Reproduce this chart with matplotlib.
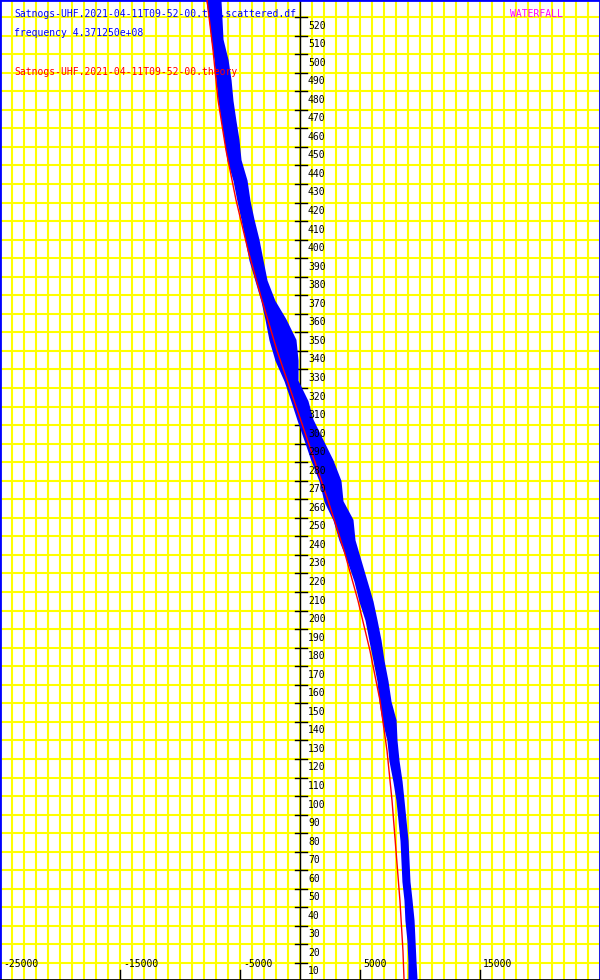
import matplotlib
matplotlib.use("Agg")
import matplotlib.pyplot as plt
import matplotlib.transforms as mtrans

# ---- data ----
# theory curve: value vs frequency offset (Hz)
theory_v = [529.2, 502.2, 475.2, 448.3, 421.3, 394.3, 367.3, 340.3, 313.3, 286.4, 259.4, 232.4, 205.4,
            178.4, 151.4, 124.5, 97.5, 70.5, 43.5, 16.5, 0.9]
theory_f = [-7750, -7250, -6830, -6170, -5330, -4330, -3170, -1920, -500, 920, 2330, 3670, 4830,
            5830, 6670, 7250, 7670, 8000, 8330, 8580, 8670]

# scattered measurements: value rows with left/right extent of the point cloud (Hz)
meas_v = [529, 518, 508, 497, 486, 475, 464, 454, 443, 432, 421, 411, 400, 389, 378, 367, 357, 346, 335,
          324, 313, 303, 292, 281, 270, 259, 249, 238, 227, 216, 205, 195, 184, 173, 162, 151, 141, 130,
          119, 108, 98, 87, 76, 65, 54, 44, 33, 22, 11, 1]
meas_lo = [-7750, -7500, -7330, -7080, -6920, -6750, -6500, -6250, -6000, -5500, -5170, -4830, -4500,
           -4170, -3670, -3170, -2830, -2500, -2000, -1250, -670, -170, 420, 1000, 1670, 2080, 2830, 3330,
           4000, 4580, 5000, 5500, 5830, 6170, 6500, 6670, 6920, 7330, 7500, 7830, 8080, 8250, 8420, 8500,
           8580, 8750, 8830, 9000, 9080, 9080]
meas_hi = [-6670, -6580, -6500, -6080, -5830, -5670, -5420, -5170, -5000, -4500, -4250, -3920, -3500,
           -3170, -2830, -2170, -1250, -420, -250, -250, 580, 1000, 1830, 2670, 3330, 3500, 4330, 4500,
           5000, 5500, 6000, 6330, 6670, 6920, 7250, 7500, 7920, 8000, 8170, 8420, 8580, 8750, 8920, 9000,
           9080, 9250, 9420, 9500, 9580, 9670]

y_ticks = list(range(10, 530, 10))
x_ticks = [-25000, -15000, -5000, 5000, 15000]

title_scatter = "Satnogs-UHF.2021-04-11T09-52-00.txt.scattered.df"
title_freq = "frequency 4.371250e+08"
title_theory = "Satnogs-UHF.2021-04-11T09-52-00.theory"
title_wf = "WATERFALL"

# ---- figure ----
W, H = 600, 980
fig = plt.figure(figsize=(W / 100, H / 100), dpi=100)
ax = fig.add_axes([0, 0, 1, 1])
ax.set_xlim(-25000, 25000)
ax.set_ylim(0.83, 529.2)
ax.set_xticks([])
ax.set_yticks([])
for s in ["left", "top", "right"]:
    ax.spines[s].set_color("blue")
    ax.spines[s].set_linewidth(2.0)
ax.spines["bottom"].set_color("black")
ax.spines["bottom"].set_linewidth(2.0)

# grid
for gx in range(-25000, 25001, 1000):
    ax.axvline(gx, color="#ffff00", lw=1.5, zorder=1)
for gy in y_ticks:
    ax.axhline(gy, color="#ffff00", lw=1.5, zorder=1)

# central axis
ax.axvline(0, color="black", lw=1.0, zorder=2)
font = dict(family="DejaVu Sans Mono", fontsize=7)
lab_tr = mtrans.offset_copy(ax.transData, fig=fig, x=8, y=-8.5, units="dots")
for v in y_ticks:
    ax.plot([-420, 580], [v, v], color="black", lw=1.0, zorder=2)
    ax.text(0, v, str(v), transform=lab_tr, ha="left", va="center", color="black", zorder=5, **font)

# bottom ticks
tick_tr = mtrans.blended_transform_factory(ax.transData, ax.transAxes)
xl_tr = mtrans.offset_copy(tick_tr, fig=fig, x=3, y=16, units="dots")
for t in x_ticks:
    ax.plot([t, t], [0, 10 / H], transform=tick_tr, color="black", lw=1.0, zorder=2)
    ax.text(t, 0, str(t), transform=xl_tr, ha="left", va="center", color="black", zorder=5, **font)

# data
ax.fill_betweenx(meas_v, meas_lo, meas_hi, color="blue", lw=1.5, edgecolor="blue", zorder=3)
ax.plot(theory_f, theory_v, color="red", lw=1.0, zorder=4)

# titles
fig.text(14 / W, 1 - 14 / H, title_scatter, color="blue", ha="left", va="center", **font)
fig.text(14 / W, 1 - 33 / H, title_freq, color="blue", ha="left", va="center", **font)
fig.text(14 / W, 1 - 72 / H, title_theory, color="red", ha="left", va="center", **font)
fig.text(510 / W, 1 - 14 / H, title_wf, color="magenta", ha="left", va="center", **font)

fig.savefig("out.png", dpi=100)
